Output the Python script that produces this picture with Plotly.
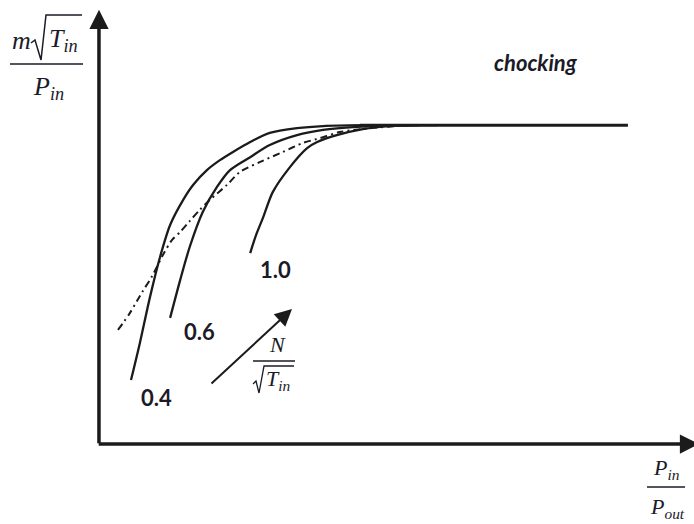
import plotly.graph_objects as go

# Pressure ratio (x) and corrected mass flow (y) along each corrected-speed line
speed_labels = ["0.4", "0.6", "1.0"]

pr_04 = [0.54, 0.69, 0.86, 1.03, 1.20, 1.42, 1.59, 1.82, 2.04, 2.26, 2.55, 2.88, 3.34, 3.78, 4.45, 5.20]
mf_04 = [1.48, 2.34, 3.40, 4.33, 5.07, 5.65, 6.00, 6.34, 6.57, 6.76, 6.99, 7.20, 7.31, 7.36, 7.38, 7.38]

pr_06 = [1.20, 1.37, 1.53, 1.75, 1.99, 2.21, 2.55, 2.88, 3.34, 3.78, 4.35, 5.08, 5.40]
mf_06 = [2.92, 3.80, 4.56, 5.37, 5.95, 6.34, 6.64, 6.92, 7.15, 7.27, 7.34, 7.38, 7.38]

pr_10 = [2.55, 2.65, 2.77, 2.93, 3.22, 3.51, 3.68, 4.01, 4.45, 4.91, 5.41, 5.70]
mf_10 = [4.42, 4.84, 5.25, 5.83, 6.41, 6.85, 6.99, 7.15, 7.29, 7.36, 7.38, 7.38]

# Operating line (dash-dot)
pr_op = [0.32, 0.52, 0.73, 0.89, 1.08, 1.23, 1.37, 1.53, 1.70, 1.87, 2.16, 2.38, 2.72, 3.10, 3.44, 3.73, 4.06, 4.57, 5.24]
mf_op = [2.64, 3.03, 3.52, 3.87, 4.38, 4.72, 4.91, 5.16, 5.42, 5.65, 6.00, 6.30, 6.53, 6.76, 6.97, 7.08, 7.22, 7.31, 7.38]

# Choked flow plateau
pr_choke = [4.40, 8.92]
mf_choke = [7.38, 7.38]

INK = "#1b1b1b"
TXT = "#1b1b28"

fig = go.Figure()

for xs, ys in [(pr_04, mf_04), (pr_06, mf_06), (pr_10, mf_10)]:
    fig.add_trace(go.Scatter(x=xs, y=ys, mode="lines",
                             line=dict(color=INK, width=2.3, shape="spline", smoothing=0.8),
                             hoverinfo="skip"))

fig.add_trace(go.Scatter(x=pr_op, y=mf_op, mode="lines",
                         line=dict(color=INK, width=2, dash="7px,4px,2px,4px",
                                   shape="spline", smoothing=0.8),
                         hoverinfo="skip"))

fig.add_trace(go.Scatter(x=pr_choke, y=mf_choke, mode="lines",
                         line=dict(color=INK, width=3), hoverinfo="skip"))

annotations = []

# Axes drawn as arrows from the origin
annotations.append(dict(x=0, y=10.05, ax=0, ay=-0.02, xref="x", yref="y", axref="x", ayref="y",
                        text="", showarrow=True, arrowhead=2, arrowsize=1.1, arrowwidth=3.5,
                        arrowcolor=INK))
annotations.append(dict(x=10.12, y=0, ax=-0.03, ay=0, xref="x", yref="y", axref="x", ayref="y",
                        text="", showarrow=True, arrowhead=2, arrowsize=1.1, arrowwidth=3.5,
                        arrowcolor=INK))

# Increasing corrected speed arrow
annotations.append(dict(x=3.255, y=3.125, ax=1.872, ay=1.366, xref="x", yref="y", axref="x", ayref="y",
                        text="", showarrow=True, arrowhead=2, arrowsize=1.7, arrowwidth=2,
                        arrowcolor=INK))

# Speed line labels
label_pos = [(0.978, 1.065), (1.703, 2.593), (2.985, 4.051)]
for lab, (lx, ly) in zip(speed_labels, label_pos):
    annotations.append(dict(x=lx, y=ly, xref="x", yref="y", text="<b>%s</b>" % lab, showarrow=False,
                            font=dict(family="Lato", size=22, color=TXT)))

annotations.append(dict(x=7.37, y=8.84, xref="x", yref="y", text="<b><i>chocking</i></b>",
                        showarrow=False, font=dict(family="Lato", size=22, color=TXT)))

serif = dict(family="Liberation Serif", size=26, color=TXT)
serif_s = dict(family="Liberation Serif", size=22, color=TXT)

# y-axis title: m sqrt(T_in) / P_in
annotations.append(dict(x=33 / 694, y=1 - 40 / 524, xref="paper", yref="paper", xanchor="right",
                        yanchor="middle", text="<i>m</i>", showarrow=False, font=serif))
annotations.append(dict(x=47 / 694, y=1 - 40 / 524, xref="paper", yref="paper", xanchor="left",
                        yanchor="middle", text="<i>T<sub>in</sub></i>", showarrow=False, font=serif))
annotations.append(dict(x=48 / 694, y=1 - 88 / 524, xref="paper", yref="paper", xanchor="center",
                        yanchor="middle", text="<i>P<sub>in</sub></i>", showarrow=False, font=serif))

# x-axis title: P_in / P_out
annotations.append(dict(x=666 / 694, y=1 - 469 / 524, xref="paper", yref="paper", xanchor="center",
                        yanchor="middle", text="<i>P<sub>in</sub></i>", showarrow=False, font=serif_s))
annotations.append(dict(x=667 / 694, y=1 - 508 / 524, xref="paper", yref="paper", xanchor="center",
                        yanchor="middle", text="<i>P<sub>out</sub></i>", showarrow=False, font=serif_s))

# speed parameter: N / sqrt(T_in)
annotations.append(dict(x=277 / 694, y=1 - 344 / 524, xref="paper", yref="paper", xanchor="center",
                        yanchor="middle", text="<i>N</i>", showarrow=False, font=serif_s))
annotations.append(dict(x=264 / 694, y=1 - 380 / 524, xref="paper", yref="paper", xanchor="left",
                        yanchor="middle", text="<i>T<sub>in</sub></i>", showarrow=False, font=serif_s))


def ppath(pts):
    return "M " + " L ".join("%.4f,%.4f" % (px / 694, 1 - py / 524) for px, py in pts)


shapes = [
    # fraction bars
    dict(type="line", xref="paper", yref="paper", x0=10 / 694, x1=83 / 694,
         y0=1 - 64 / 524, y1=1 - 64 / 524, line=dict(color=TXT, width=1.5)),
    dict(type="line", xref="paper", yref="paper", x0=647 / 694, x1=685 / 694,
         y0=1 - 487 / 524, y1=1 - 487 / 524, line=dict(color=TXT, width=1.5)),
    dict(type="line", xref="paper", yref="paper", x0=253 / 694, x1=295 / 694,
         y0=1 - 361 / 524, y1=1 - 361 / 524, line=dict(color=TXT, width=1.5)),
    # radical signs
    dict(type="path", xref="paper", yref="paper",
         path=ppath([(31, 43), (35, 40), (41, 60), (46, 15), (82, 15)]),
         line=dict(color=TXT, width=1.5)),
    dict(type="path", xref="paper", yref="paper",
         path=ppath([(253, 384), (256, 381), (259, 393), (264, 366), (294, 366)]),
         line=dict(color=TXT, width=1.3)),
]

fig.update_layout(
    width=694, height=524,
    margin=dict(l=0, r=0, t=0, b=0),
    paper_bgcolor="white", plot_bgcolor="white",
    showlegend=False,
    xaxis=dict(visible=False, range=[-1.669, 10.034], fixedrange=True),
    yaxis=dict(visible=False, range=[-1.852, 10.278], fixedrange=True),
    annotations=annotations,
    shapes=shapes,
)

fig.write_html("out.html")
